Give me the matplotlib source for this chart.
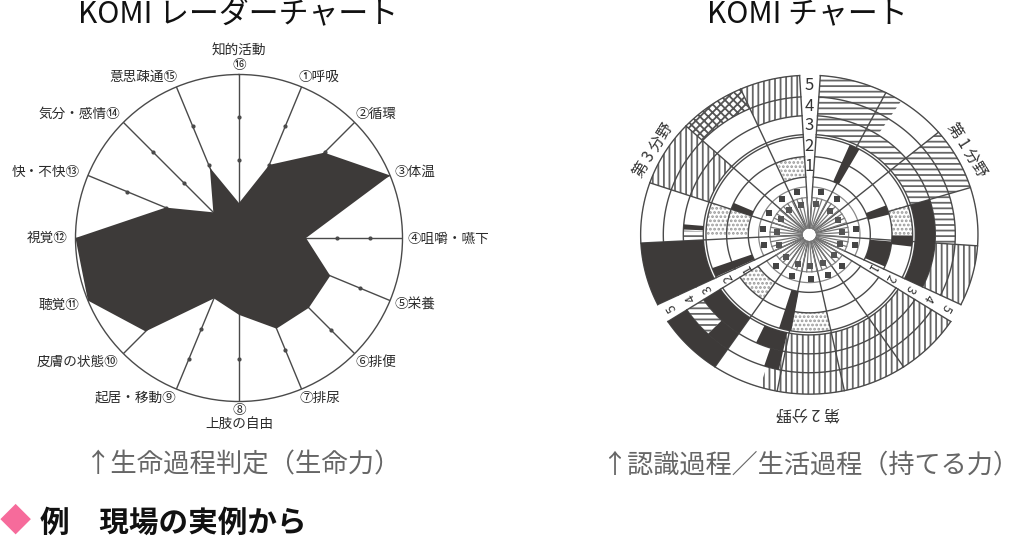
#!/usr/bin/env python
import numpy as np
import matplotlib
matplotlib.use('Agg')
import matplotlib.pyplot as plt

plt.rcParams['font.family'] = ['Noto Sans CJK JP', 'DejaVu Sans']
plt.rcParams['hatch.linewidth'] = 1.3

W, H = 1020, 538
DARK = '#3d3a39'
LINE = '#4a4a4a'

# radar: clockwise from the top spoke
radar_values = [1.07, 2.42, 3.69, 5.0, 2.05, 3.02, 3.02, 3.0, 2.35, 2.0, 4.04, 5.0, 5.0, 2.43, 1.11, 2.33]
radar_ticks = [[2.4, 3.7], [2.4, 3.7], [3.7], [], [3.0, 4.0], [4.0], [4.0], [3.7], [3.7], [3.0, 4.0],
               [], [], [], [2.4, 3.7], [2.4, 3.7], [2.4, 3.7]]
radar_labels = ['知的活動\n⑯', '①呼吸', '②循環', '③体温', '④咀嚼・嚥下', '⑤栄養', '⑥排便', '⑦排尿',
                '⑧\n上肢の自由', '起居・移動⑨', '皮膚の状態⑩', '聴覚⑪', '視覚⑫', '快・不快⑬', '気分・感情⑭', '意思疎通⑮']
label_x = [239, 319, 376, 415, 448, 415, 376, 320, 239, 136, 78, 59, 47, 46, 79, 143]
label_y = [58, 77, 114, 172, 239, 305, 362, 398, 417, 398, 362, 305, 238, 172, 114, 77]

# KOMI chart: cell boundaries in degrees, clockwise
sector_edges = [[3.75, 27, 50, 72.8, 94, 116],
                [123, 146, 168, 191, 214, 237],
                [244, 267, 289, 313, 336, 356.7]]
ring_radii = {1: (183, 248), 2: (248, 310), 3: (318, 378), 4: (378, 438), 5: (438, 506)}
inner_rings = [22, 118, 152]

# (start deg, end deg, first ring, last ring)
h_cells = [(3.75, 27, 3, 5), (27, 33, 4, 5), (27, 50, 3, 3), (50, 72.8, 3, 5), (72.8, 94, 4, 4),
           (224, 237, 4, 4), (267, 272, 3, 3)]
v_cells = [(94, 116, 4, 5), (123, 192, 3, 4), (123, 197, 5, 5), (289, 313, 3, 5), (336, 356.7, 4, 5)]
x_cells = [(313, 336, 5, 5)]
d_cells = [(72, 90, 2, 2), (168, 190, 2, 2), (214, 237, 1, 1), (270, 289, 1, 2), (337, 356, 1, 1)]
k_cells = [(72.8, 116, 3, 3), (244, 267, 3, 5), (192, 205, 3, 3), (192, 198, 4, 4), (214, 237, 3, 3),
           (214, 224, 4, 4), (214, 237, 5, 5), (23, 29, 1, 2), (68, 75, 1, 1), (90.5, 97, 2, 2),
           (95, 114, 1, 1), (190, 197, 1, 2), (244.5, 250, 1, 2), (289, 294, 1, 1), (272.5, 275, 3, 3)]

# small dark cells near the hub
mark_angles_a = [15, 37, 83, 104, 136, 157, 178, 202, 225, 256, 278, 300, 324, 345]
mark_angles_b = [12, 40, 62, 85, 108, 130, 155, 178, 200, 225, 250, 275, 300, 322, 345]

gap_angles = [0, 119.5, 240.5]
gap_numbers = ['1', '2', '3', '4', '5']
gap_radii = [215, 279, 348, 408, 472]


def px_text(fig, x, y, s, **kw):
    fig.text(x / W, 1 - y / H, s, ha=kw.pop('ha', 'center'), va='center', **kw)


def polar_axes(fig, cx, cy, rx, ry):
    ax = fig.add_axes([(cx - rx) / W, 1 - (cy + ry) / H, 2 * rx / W, 2 * ry / H], projection='polar')
    ax.set_aspect('auto')
    ax.set_theta_zero_location('N')
    ax.set_theta_direction(-1)
    ax.set_xticks([])
    ax.set_yticks([])
    ax.grid(False)
    return ax


def add_cells(ax, cells, **kw):
    for a0, a1, r0, r1 in cells:
        lo = ring_radii[r0][0]
        hi = ring_radii[r1][1]
        t0, t1 = np.radians(a0), np.radians(a1)
        ax.bar((t0 + t1) / 2, hi - lo, width=t1 - t0, bottom=lo, **kw)


fig = plt.figure(figsize=(W / 100, H / 100), dpi=100)

# radar
ax = polar_axes(fig, 239, 238, 163.5, 163.5)
ax.set_ylim(0, 5)
ax.spines['polar'].set_color(LINE)
ax.spines['polar'].set_linewidth(1.0)
angles = np.radians(np.arange(16) * 22.5)
for t, ticks in zip(angles, radar_ticks):
    ax.plot([t, t], [0, 5], color=LINE, lw=1.0, zorder=1)
    ax.plot([t] * len(ticks), ticks, 'o', color=LINE, ms=2.0, zorder=1)
ax.fill(np.append(angles, angles[0]), radar_values + radar_values[:1], color=DARK, lw=0, zorder=2)
for s, x, y in zip(radar_labels, label_x, label_y):
    px_text(fig, x, y, s, fontsize=9.8, color='#2a2a2a', linespacing=1.0)

# KOMI chart
ax = polar_axes(fig, 809.3, 234.7, 170, 160.7)
ax.set_ylim(0, 510)
ax.spines['polar'].set_visible(False)
ax.patch.set_alpha(0)
add_cells(ax, h_cells, facecolor='white', edgecolor='#666666', hatch='---', lw=0, zorder=1)
add_cells(ax, v_cells, facecolor='white', edgecolor='#666666', hatch='|||', lw=0, zorder=1)
add_cells(ax, x_cells, facecolor='white', edgecolor='#555555', hatch='xxxx', lw=0, zorder=1)
add_cells(ax, d_cells, facecolor='white', edgecolor='#999999', hatch='....', lw=0, zorder=1)
add_cells(ax, k_cells, facecolor=DARK, edgecolor=DARK, lw=0, zorder=3)

for edges in sector_edges:
    arc = np.radians(np.linspace(edges[0], edges[-1], 120))
    for r in [183, 248, 310, 318, 378, 438, 506]:
        ax.plot(arc, np.full(arc.shape, r), color=LINE, lw=1.0, zorder=2)
    for r in inner_rings:
        ax.plot(arc, np.full(arc.shape, r), color='#888888', lw=0.9, zorder=2)
    for e in edges:
        t = np.radians(e)
        ax.plot([t, t], [22, 506], color=LINE, lw=1.0, zorder=2)
    # extra lines inside the hub
    fine = np.linspace(edges[0], edges[-1], 16)
    for e in fine:
        t = np.radians(e)
        ax.plot([t, t], [22, 118], color='#777777', lw=0.9, zorder=2)

ax.plot(np.radians(mark_angles_a), [140] * len(mark_angles_a), 's', color='#444444', ms=5, mew=0, zorder=4)
ax.plot(np.radians(mark_angles_b), [98] * len(mark_angles_b), 's', color='#555555', ms=4.5, mew=0, zorder=4)

for g in gap_angles:
    t = np.radians(g)
    for n, r in zip(gap_numbers, gap_radii):
        ax.text(t, r, n, rotation=-g, rotation_mode='anchor', ha='center', va='center',
                fontsize=12 if g == 0 else 9, color='#333333')

px_text(fig, 653, 150, '第 3 分野', fontsize=11, rotation=58, color='#333333')
px_text(fig, 967, 150, '第 1 分野', fontsize=11, rotation=-58, color='#333333')
px_text(fig, 808, 413, '第 2 分野', fontsize=11.5, rotation=180, color='#333333')

# headings and captions
px_text(fig, 238, 14, 'KOMI レーダーチャート', fontsize=21.5, color='#111111')
px_text(fig, 807, 14, 'KOMI チャート', fontsize=21.5, color='#111111')
px_text(fig, 243, 465, '↑生命過程判定（生命力）', fontsize=19, color='#666666')
px_text(fig, 810, 465, '↑認識過程／生活過程（持てる力）', fontsize=18.8, color='#666666')
px_text(fig, 15.5, 522, '◆', fontsize=22.5, color='#f66b9b')
px_text(fig, 40, 523, '例　現場の実例から', fontsize=21.3, fontweight='bold', color='#111111', ha='left')

fig.savefig('out.png', dpi=100)
